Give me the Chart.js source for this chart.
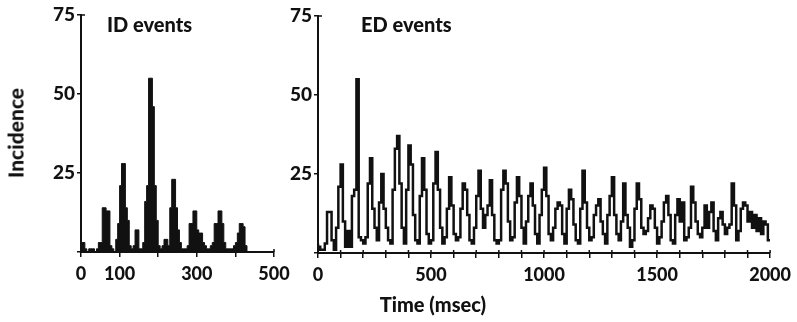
<!DOCTYPE html>
<html>
<head>
<meta charset="utf-8">
<script src="https://cdn.jsdelivr.net/npm/chart.js@4/dist/chart.umd.min.js"></script>
<style>
  html, body { margin: 0; padding: 0; background: #fff; }
  #wrap { position: relative; width: 797px; height: 322px; overflow: hidden; }
  canvas { position: absolute; left: 0; top: 0; }
  .lbl { position: absolute; font-family: Lato, "Open Sans", sans-serif; font-weight: 900; color: #111; white-space: nowrap; line-height: 1; }
</style>
</head>
<body>
<div id="wrap">
  <canvas id="idChart" width="797" height="322"></canvas>
  <canvas id="edChart" width="797" height="322"></canvas>
  <div class="lbl" id="idTitle" style="left:107px; top:14px; font-size:20px;">ID events</div>
  <div class="lbl" id="edTitle" style="left:361px; top:14px; font-size:20px;">ED events</div>
  <div class="lbl" id="yTitle" style="left:15px; top:133px; font-size:21px; transform: translate(-50%,-50%) rotate(-90deg);">Incidence</div>
  <div class="lbl" id="xTitle" style="left:433px; top:304px; font-size:20px; transform: translate(-50%,-50%);">Time (msec)</div>
</div>
<script>
// Interval histograms: counts per time bin.
const ID_BIN_MS = 5;
const ED_BIN_MS = 10;

// ID events, 5 ms bins starting at 0 ms
const idCounts = [
  1, 3, 3, 1, 0, 1, 1, 1, 0, 1,
  3, 3, 14, 14, 13, 13, 2, 1, 0, 4,
  9, 21, 28, 28, 14, 10, 2, 1, 2, 7,
  7, 1, 1, 3, 16, 21, 55, 55, 46, 21,
  10, 2, 1, 2, 4, 4, 2, 14, 23, 23,
  14, 7, 3, 1, 1, 1, 2, 9, 9, 13,
  13, 7, 6, 6, 3, 2, 1, 1, 2, 3,
  9, 9, 13, 13, 9, 3, 1, 1, 1, 1,
  2, 3, 6, 9, 9, 8, 2, 0
];

// ED events, 10 ms bins starting at 0 ms
const edCounts = [
  3, 2, 1, 1, 3, 13, 13, 4, 1, 8,
  21, 28, 10, 2, 7, 2, 18, 20, 55, 5,
  4, 3, 5, 22, 30, 14, 8, 4, 16, 25,
  14, 8, 4, 3, 20, 33, 37, 22, 8, 3,
  20, 34, 28, 12, 4, 3, 18, 30, 20, 6,
  3, 4, 22, 32, 20, 8, 3, 5, 14, 24,
  15, 6, 4, 5, 14, 22, 20, 12, 4, 3,
  8, 18, 26, 14, 8, 12, 15, 23, 12, 4,
  3, 4, 20, 26, 22, 10, 4, 5, 16, 24,
  18, 8, 3, 10, 18, 22, 15, 6, 3, 12,
  20, 27, 18, 6, 4, 8, 14, 16, 15, 6,
  3, 14, 20, 17, 9, 4, 3, 14, 26, 16,
  8, 4, 5, 12, 15, 17, 10, 6, 3, 12,
  18, 24, 12, 6, 4, 10, 22, 12, 8, 2,
  4, 14, 22, 17, 8, 6, 7, 11, 15, 14,
  8, 3, 5, 10, 16, 18, 12, 4, 3, 12,
  17, 10, 16, 4, 5, 8, 21, 16, 10, 6,
  5, 8, 15, 8, 13, 16, 7, 4, 11, 13,
  9, 6, 8, 9, 22, 15, 4, 7, 14, 16,
  15, 10, 13, 8, 12, 7, 11, 6, 10, 9
];

const idTickLabels = { 0: '0', 100: '100', 300: '300', 500: '500' };
const edTickLabels = { 0: '0', 500: '500', 1000: '1000', 1500: '1500', 2000: '2000' };
const yTickLabels = { 25: '25', 50: '50', 75: '75' };

// step-histogram points: one point per bin start, plus a closing point
function binPoints(counts, width, closeValue) {
  const pts = counts.map((v, i) => ({ x: i * width, y: v }));
  pts.push({ x: counts.length * width, y: closeValue });
  return pts;
}

const INK = '#111';
const FAMILY = 'Lato, "Open Sans", sans-serif';
const xTickFont = { family: FAMILY, size: 18, weight: '900' };
const yTickFont = { family: FAMILY, size: 19, weight: '900' };

function makeScales(xMax, xStep, xLabels, yAxisWidth) {
  return {
    x: {
      type: 'linear', min: 0, max: xMax,
      afterBuildTicks: (s) => {
        const t = [];
        for (let v = 0; v <= xMax; v += xStep) t.push({ value: v });
        s.ticks = t;
      },
      afterFit: (s) => { s.height = 40; },
      border: { display: true, color: INK, width: 2 },
      grid: { drawOnChartArea: false, drawTicks: true, tickLength: 5, color: INK, lineWidth: 1.5 },
      ticks: {
        color: INK, font: xTickFont, padding: 6, maxRotation: 0, autoSkip: false,
        callback: (v) => (xLabels[v] !== undefined ? xLabels[v] : '')
      }
    },
    y: {
      type: 'linear', min: 0, max: 75,
      afterBuildTicks: (s) => { s.ticks = [0, 25, 50, 75].map(v => ({ value: v })); },
      afterFit: (s) => { s.width = yAxisWidth; },
      border: { display: true, color: INK, width: 2 },
      grid: { drawOnChartArea: false, drawTicks: true, tickLength: 4, color: INK, lineWidth: 1.5 },
      ticks: {
        color: INK, font: yTickFont, padding: 2,
        callback: (v) => (yTickLabels[v] !== undefined ? yTickLabels[v] : '')
      }
    }
  };
}

// short tick stubs on the inner side of each axis, so ticks cross the axis line
const crossTicks = {
  id: 'crossTicks',
  afterDraw(chart) {
    const { ctx, scales: { x, y } } = chart;
    ctx.save();
    ctx.strokeStyle = INK;
    ctx.lineWidth = 1.5;
    ctx.beginPath();
    x.ticks.forEach(t => {
      const px = x.getPixelForValue(t.value);
      ctx.moveTo(px, x.top);
      ctx.lineTo(px, x.top - 3);
    });
    const top = y.getPixelForValue(75);
    ctx.moveTo(y.right, top);
    ctx.lineTo(y.right + 4, top);
    ctx.stroke();
    ctx.restore();
  }
};

const common = {
  responsive: false,
  animation: false,
  events: [],
  plugins: { legend: { display: false }, tooltip: { enabled: false }, title: { display: false } },
  elements: { point: { radius: 0 } }
};

// ID events: filled step histogram, axes 0–500 ms
new Chart(document.getElementById('idChart'), {
  type: 'line',
  data: {
    datasets: [{
      data: binPoints(idCounts, ID_BIN_MS, 0),
      stepped: 'after',
      borderColor: INK,
      borderWidth: 1,
      backgroundColor: INK,
      fill: 'origin'
    }]
  },
  options: Object.assign({}, common, {
    layout: { padding: { left: 36, right: 523, top: 15, bottom: 30 } },
    scales: makeScales(500, 100, idTickLabels, 45)
  }),
  plugins: [crossTicks]
});

// ED events: outlined step histogram, axes 0–2000 ms
new Chart(document.getElementById('edChart'), {
  type: 'line',
  data: {
    datasets: [{
      data: binPoints(edCounts, ED_BIN_MS, 4),
      stepped: 'after',
      borderColor: INK,
      borderWidth: 2.5,
      fill: false
    }]
  },
  options: Object.assign({}, common, {
    layout: { padding: { left: 273, right: 20, top: 16, bottom: 29 } },
    scales: makeScales(2000, 100, edTickLabels, 45)
  }),
  plugins: [crossTicks]
});
</script>
</body>
</html>
